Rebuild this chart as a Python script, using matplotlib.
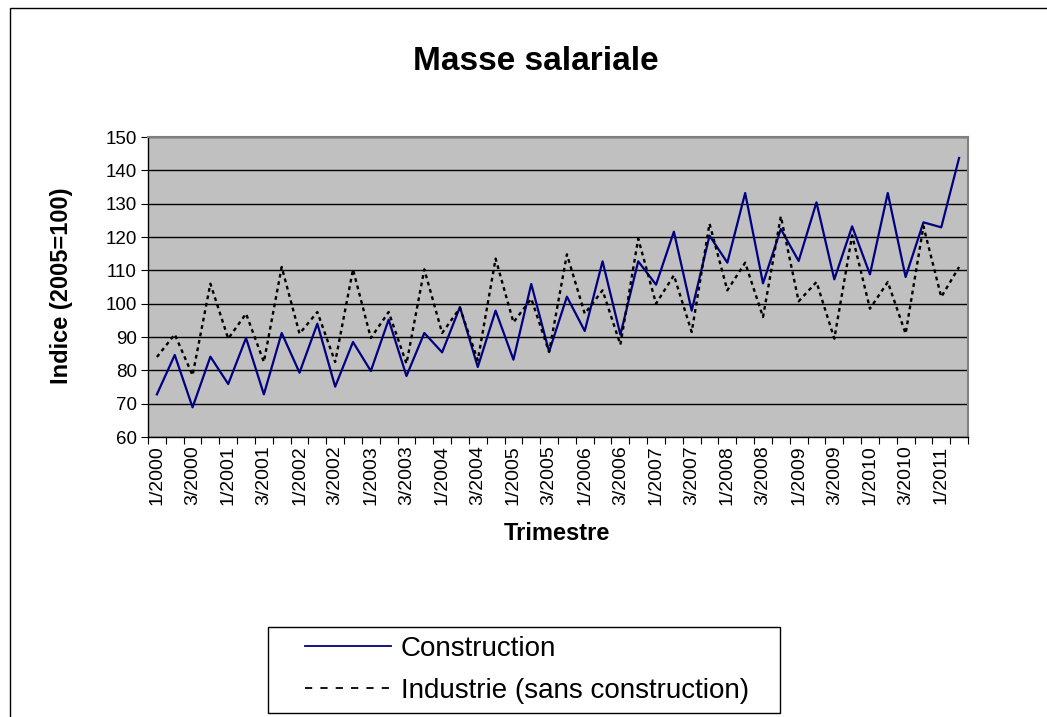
import matplotlib

matplotlib.use("Agg")
import matplotlib.pyplot as plt
from matplotlib.patches import Rectangle

# quarterly index (2005=100), 1/2000 .. 2/2011
years = list(range(2000, 2012))
quarters = [f"{q}/{y}" for y in years for q in range(1, 5)][:46]

construction = [
    72.8, 84.6, 68.9, 84.1, 75.9, 89.7, 72.8, 91.2, 79.3, 94.0,
    75.1, 88.5, 79.8, 95.2, 78.3, 91.2, 85.4, 99.0, 81.0, 97.9,
    83.2, 105.9, 85.6, 102.1, 91.8, 112.7, 90.7, 112.7, 105.7, 121.6,
    97.9, 120.4, 112.3, 133.2, 106.1, 122.4, 112.8, 130.4, 107.3, 123.2,
    108.8, 133.2, 108.0, 124.4, 122.9, 143.7,
]
industrie = [
    84.0, 90.8, 78.5, 106.0, 89.5, 97.0, 82.5, 111.0, 91.0, 97.5,
    82.5, 110.3, 89.7, 97.5, 82.0, 110.3, 91.2, 98.7, 83.0, 113.5,
    94.4, 101.5, 85.5, 114.8, 97.0, 104.0, 87.7, 119.5, 100.0, 108.5,
    91.5, 124.0, 104.0, 112.3, 96.0, 126.2, 100.7, 106.5, 89.5, 120.5,
    98.5, 106.5, 91.0, 123.2, 102.0, 111.0,
]

plt.rcParams["font.family"] = ["Liberation Sans", "DejaVu Sans"]

fig = plt.figure(figsize=(10.47, 7.17), dpi=100)
W, H = 1047, 717
ax = fig.add_axes([148 / W, 1 - 437 / H, 820 / W, 300 / H])
ax.set_facecolor("#C0C0C0")

x = list(range(len(quarters)))
ax.plot(x, construction, color="#000080", lw=1.6, label="Construction", zorder=3)
ax.plot(x, industrie, color="black", lw=1.7, linestyle=(0, (1.6, 1.6)),
        label="Industrie (sans construction)", zorder=3)

ax.set_xlim(-0.5, len(quarters) - 0.5)
ax.set_ylim(60, 150)
ax.set_yticks(range(60, 151, 10))
ax.yaxis.grid(True, color="black", lw=1)
ax.set_axisbelow(True)
ax.tick_params(axis="y", labelsize=13.5, length=5, direction="out", pad=3)

# ticks between categories, labels on every second quarter
ax.set_xticks([i - 0.5 for i in range(len(quarters) + 1)])
ax.set_xticklabels([])
ax.set_xticks(x[::2], quarters[::2], minor=True)
ax.tick_params(axis="x", which="major", length=5, direction="out")
ax.tick_params(axis="x", which="minor", length=0, labelsize=14, rotation=90, pad=6)

for side in ("top", "right"):
    ax.spines[side].set_color("#808080")
    ax.spines[side].set_linewidth(1.5)
for side in ("left", "bottom"):
    ax.spines[side].set_color("black")
    ax.spines[side].set_linewidth(1)

ax.set_ylabel("Indice (2005=100)", fontsize=17, fontweight="bold")
ax.yaxis.set_label_coords(-0.0915, 0.503)
ax.set_xlabel("Trimestre", fontsize=17, fontweight="bold")
ax.xaxis.set_label_coords(0.499, -0.283)

fig.text(536 / W, 1 - 62 / H, "Masse salariale", fontsize=24, fontweight="bold",
         ha="center", va="center")

# legend box drawn separately so the entries sit inset like the original
fig.patches.append(Rectangle((268 / W, 1 - 713 / H), 512 / W, 86 / H,
                             transform=fig.transFigure, facecolor="white",
                             edgecolor="black", lw=1, zorder=1))
leg = fig.legend(loc="upper left", bbox_to_anchor=(305 / W, 1 - 636 / H),
                 fontsize=20, handlelength=3.1, handletextpad=0.35,
                 borderpad=0, labelspacing=0.58, borderaxespad=0, frameon=False)
leg.set_zorder(2)
lines = leg.get_lines()
lines[0].set_linewidth(1.3)
lines[1].set_linewidth(1.3)
lines[1].set_linestyle((0, (4, 4.5)))

# outer chart frame
fig.patches.append(Rectangle((10 / W, -0.1), 1.2, 1.1 - 8 / H, transform=fig.transFigure,
                             fill=False, edgecolor="black", lw=1))

fig.savefig("out.png", dpi=100)
